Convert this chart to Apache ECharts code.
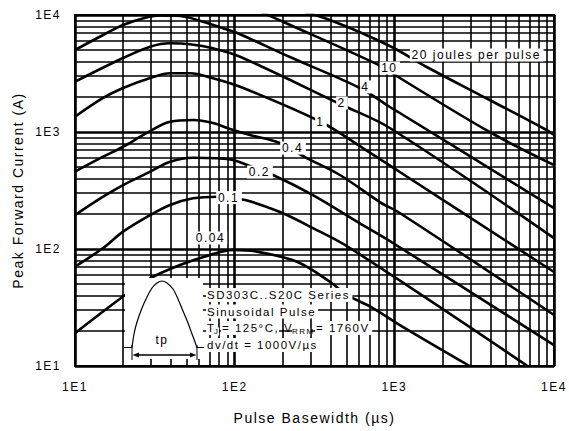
<!DOCTYPE html>
<html><head><meta charset="utf-8">
<script src="https://cdn.jsdelivr.net/npm/echarts@6/dist/echarts.min.js"></script>
<style>
html,body{margin:0;padding:0;background:#fff}
#c{width:569px;height:431px;letter-spacing:1.5px}
</style>
</head><body><div id="c"></div>
<script>
// ---- axis ticks ----
const xTicks = [10, 100, 1000, 10000];
const yTicks = [10, 100, 1000, 10000];
const xTickLabels = ['1E1', '1E2', '1E3', '1E4'];
const yTickLabels = ['1E1', '1E2', '1E3', '1E4'];
const minorMult = [2, 3, 4, 5, 6, 7, 8, 9];

// ---- curves: [pulse basewidth (us), peak current (A)] ----
const energies = ['20', '10', '4', '2', '1', '0.4', '0.2', '0.1', '0.04'];
const e20 = [[222, 11480], [395, 9057], [937, 5433], [1596, 3594], [3952, 1877], [8977, 1040], [10000, 942]];
const e10 = [[124.8, 11700], [161.8, 10000], [200.8, 8763], [847, 3594], [1082, 2894], [3952, 1000], [10000, 522]];
const e4 = [[10, 5023], [15, 6750], [20, 8212], [28.3, 9550], [34.2, 9900], [45.5, 9806], [63.4, 8763], [84.6, 7692], [103.5, 7015], [222, 4375], [608.5, 2377], [937, 1636], [1082, 1453], [10000, 224]];
const e2 = [[10, 2692], [20, 4290], [29.6, 5360], [39.4, 5730], [52.6, 5620], [73.3, 5192], [108.1, 4401], [470, 1702], [937, 1082], [10000, 124]];
const e1 = [[10, 1351], [15, 1953], [20, 2377], [29.6, 2894], [39.4, 3175], [52.6, 3175], [73.3, 2877], [108.1, 2438], [347, 1218], [635, 729], [1082, 455], [10000, 63.6]];
const e04 = [[10, 458], [15, 615], [20, 748], [27.5, 962], [39.4, 1225], [54.9, 1267], [73.3, 1194], [93.5, 1061], [124.8, 942], [192.3, 805], [275.4, 611], [456.3, 429], [811, 252], [1082, 203], [10000, 27.3]];
const e02 = [[10, 195], [15, 280], [20, 352], [29.6, 458], [39.4, 557], [54.9, 603], [77.6, 596], [97.7, 577], [119.6, 522], [173.8, 429], [309, 289], [635, 160], [979, 112.5], [10000, 15.1]];
const e01 = [[10, 70.6], [15, 102], [20, 140.6], [29.6, 195], [39.4, 238], [54.9, 271], [77.6, 280], [116.2, 262], [192.3, 207], [309, 151], [527, 102], [6826, 10]];
const e004 = [[10, 19.1], [20.6, 40.5], [29.6, 56.2], [45.5, 72.9], [70.2, 88.9], [97.7, 98], [138, 94.8], [245.5, 77.8], [395, 52.5], [504.4, 40.5], [733.8, 31.3], [1082, 22.4], [2965, 10]];
const curves = [e20, e10, e4, e2, e1, e04, e02, e01, e004];

// ---- curve labels (data-space anchors) ----
const curveLabels = ['20 joules per pulse', '10', '4', '2', '1', '0.4', '0.2', '0.1', '0.04'];
const labelX = [3281, 937, 664, 470, 347, 232, 144, 92.2, 71.1];
const labelY = [4550, 3524, 2427, 1771, 1218, 729, 455, 275, 124];

// ---- annotation ----
const noteLines = ['SD303C..S20C Series', 'Sinusoidal Pulse', 'dv/dt = 1000V/µs'];
const condParts = ['T', 'J', '= 125°C, V', 'RRM', '= 1760V'];

const FONT = 'Arial, "Liberation Sans", sans-serif';
const LS = 1.5; // letter spacing px (CSS)

const xMinor = [], yMinor = [];
xTicks.slice(0, -1).forEach(d => minorMult.forEach(m => xMinor.push(d * m)));
yTicks.slice(0, -1).forEach(d => minorMult.forEach(m => yMinor.push(d * m)));

const chart = echarts.init(document.getElementById('c'), null, {renderer: 'svg'});

const series = [];
series.push({
  type: 'line', data: [], silent: true, z: 1,
  markLine: {
    silent: true, animation: false, symbol: ['none', 'none'],
    label: {show: false}, emphasis: {disabled: true},
    lineStyle: {color: '#000', width: 1.6, type: 'solid'},
    data: xMinor.map(v => ({xAxis: v})).concat(yMinor.map(v => ({yAxis: v})))
  }
});
curves.forEach((c, i) => {
  series.push({
    name: energies[i] + ' J', type: 'line', data: c, symbol: 'none', showSymbol: false,
    smooth: 0.35, clip: true, z: 3, silent: true,
    lineStyle: {color: '#000', width: 2.6}
  });
});
series.push({
  type: 'scatter', z: 8, silent: true, symbolSize: 2, itemStyle: {color: 'rgba(255,255,255,0)'},
  data: curveLabels.map((t, i) => ({
    value: [labelX[i], labelY[i]], name: t,
    label: {padding: [1, Math.ceil(t.length * LS / 2) + 2, 0, Math.ceil(t.length * LS / 2) + 1]}
  })),
  label: {
    show: true, position: 'inside', formatter: p => p.name,
    color: '#000', fontSize: 12, fontFamily: FONT, backgroundColor: '#fff',
    textBorderWidth: 0, textBorderColor: 'transparent', opacity: 1
  }
});

function pad(t) { return [1, Math.ceil(t.length * LS) + 2, 1, 1]; }
const noteX = 206;
function txt(t, x, y, size, padding) {
  return {type: 'text', z: 60, silent: true, style: {
    text: t, x: x, y: y, font: size + 'px ' + FONT, fill: '#000', backgroundColor: '#fff', padding: padding,
    verticalAlign: 'middle', textVerticalAlign: 'middle', align: 'left', textAlign: 'left'
  }};
}
const graphics = [
  {type: 'rect', z: 50, silent: true, shape: {x: 125, y: 278, width: 78, height: 81}, style: {fill: '#fff'}},
  {type: 'polyline', z: 51, silent: true,
    shape: {points: [[132, 348], [134, 334], [137, 322], [142, 308], [147, 297], [152, 288], [157, 283], [162, 281], [167, 283], [173, 289], [178, 299], [183, 311], [188, 323], [192, 334], [195, 342], [197, 348]], smooth: 0.3},
    style: {stroke: '#000', lineWidth: 1.2, fill: null}},
  {type: 'line', z: 51, silent: true, shape: {x1: 124, y1: 347.5, x2: 132, y2: 347.5}, style: {stroke: '#000', lineWidth: 1}},
  {type: 'line', z: 51, silent: true, shape: {x1: 197, y1: 347.5, x2: 204, y2: 347.5}, style: {stroke: '#000', lineWidth: 1}},
  {type: 'line', z: 51, silent: true, shape: {x1: 132, y1: 345, x2: 132, y2: 360}, style: {stroke: '#000', lineWidth: 1}},
  {type: 'line', z: 51, silent: true, shape: {x1: 197, y1: 345, x2: 197, y2: 360}, style: {stroke: '#000', lineWidth: 1}},
  {type: 'line', z: 51, silent: true, shape: {x1: 136, y1: 355, x2: 193, y2: 355}, style: {stroke: '#000', lineWidth: 1.4}},
  {type: 'polygon', z: 51, silent: true, shape: {points: [[132.5, 355], [139, 352.5], [139, 357.5]]}, style: {fill: '#000'}},
  {type: 'polygon', z: 51, silent: true, shape: {points: [[196.5, 355], [190, 352.5], [190, 357.5]]}, style: {fill: '#000'}},
  {type: 'text', z: 52, silent: true, style: {text: 'tp', x: 162, y: 340, font: '12px ' + FONT, fill: '#000', align: 'center', verticalAlign: 'middle', textAlign: 'center', textVerticalAlign: 'middle'}}
];
graphics.push(txt(noteLines[0], noteX, 295, 11.5, pad(noteLines[0])));
graphics.push(txt(noteLines[1], noteX, 311.5, 11.5, pad(noteLines[1])));
graphics.push(txt(condParts[0], noteX, 328, 11.5, [1, 1, 1, 1]));
graphics.push(txt(condParts[1], 214, 331.5, 8, [0, 1, 0, 0]));
graphics.push(txt(condParts[2], 221, 328, 11.5, [1, 1, 1, 1]));
graphics.push(txt(condParts[3], 292, 331.5, 8, [0, 0, 0, 0]));
graphics.push(txt(condParts[4], 315, 328, 11.5, pad(condParts[4])));
graphics.push(txt(noteLines[2], noteX, 345, 11.5, pad(noteLines[2])));

const axisCommon = {
  type: 'log', logBase: 10, min: 10, max: 10000,
  axisLine: {show: true, lineStyle: {color: '#000', width: 2}},
  axisTick: {show: false},
  minorTick: {show: false},
  splitLine: {show: true, lineStyle: {color: '#000', width: 2.6}},
  nameLocation: 'middle',
  nameTextStyle: {color: '#000', fontSize: 14, fontFamily: FONT}
};

chart.setOption({
  animation: false,
  backgroundColor: '#fff',
  grid: {left: 75, right: 15, top: 15, bottom: 65, show: true, borderColor: '#000', borderWidth: 2, backgroundColor: 'transparent', containLabel: false, outerBoundsMode: 'none'},
  xAxis: Object.assign({}, axisCommon, {
    name: 'Pulse Basewidth (µs)', nameGap: 45,
    axisLabel: {color: '#000', fontSize: 12, fontFamily: FONT, margin: 15,
      formatter: v => xTickLabels[Math.round(Math.log10(v)) - 1]}
  }),
  yAxis: Object.assign({}, axisCommon, {
    name: 'Peak Forward Current (A)', nameGap: 50,
    axisLabel: {color: '#000', fontSize: 12, fontFamily: FONT, margin: 14,
      formatter: v => yTickLabels[Math.round(Math.log10(v)) - 1]}
  }),
  series: series,
  graphic: graphics
});
</script>
</body></html>
